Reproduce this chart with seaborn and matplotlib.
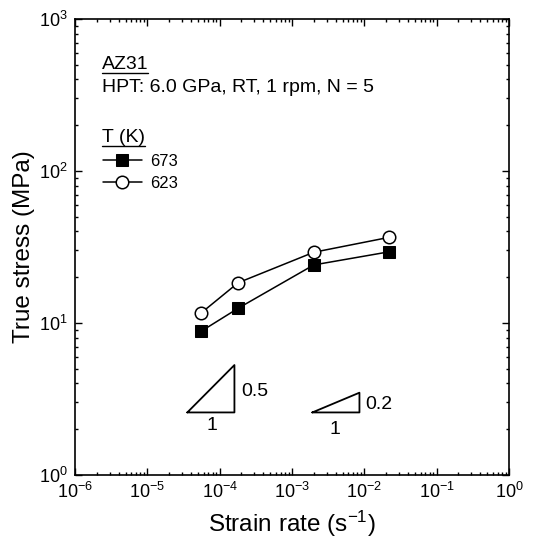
import numpy as np
import pandas as pd
import matplotlib
matplotlib.use("Agg")
import matplotlib.pyplot as plt
from matplotlib.lines import Line2D
import seaborn as sns

# data
strain_rate = [5.5e-5, 1.8e-4, 2.0e-3, 2.2e-2]
stress_673 = [8.8, 12.5, 24.1, 29.4]
stress_623 = [11.6, 18.4, 29.2, 36.6]
temps = ["673", "623"]

# slope triangles (x0, x1, y0, y1)
tri_05 = [3.57e-5, 1.6e-4, 2.58, 5.29]
tri_02 = [1.91e-3, 8.56e-3, 2.58, 3.48]

df = pd.DataFrame({
    "rate": strain_rate * 2,
    "stress": stress_673 + stress_623,
    "T": [temps[0]] * 4 + [temps[1]] * 4,
})

sns.set_style("ticks")
plt.rcParams["font.family"] = ["Liberation Sans", "DejaVu Sans"]
plt.rcParams["mathtext.fontset"] = "custom"
plt.rcParams["mathtext.rm"] = "Liberation Sans"
plt.rcParams["mathtext.it"] = "Liberation Sans:italic"
for k in ("text.color", "axes.labelcolor", "xtick.color", "ytick.color", "axes.edgecolor"):
    plt.rcParams[k] = "black"

fig = plt.figure(figsize=(5.45, 5.38), dpi=100)
ax = fig.add_axes([75 / 545, 63 / 538, 434 / 545, 456 / 538])

sns.lineplot(data=df[df["T"] == "673"], x="rate", y="stress", ax=ax,
             color="black", marker="s", markersize=8.5, markerfacecolor="black",
             markeredgecolor="black", linewidth=1.1, label="673")
sns.lineplot(data=df[df["T"] == "623"], x="rate", y="stress", ax=ax,
             color="black", marker="o", markersize=9, markerfacecolor="white",
             markeredgecolor="black", markeredgewidth=1.1, linewidth=1.1, label="623")

ax.set_xscale("log")
ax.set_yscale("log")
ax.set_xlim(1e-6, 1)
ax.set_ylim(1, 1000)

for tri in (tri_05, tri_02):
    x0, x1, y0, y1 = tri
    ax.plot([x0, x1, x1, x0], [y0, y0, y1, y0], color="black", linewidth=1.3)

ax.text(1.98e-4, 3.53, "0.5", fontsize=14, ha="left", va="center")
ax.text(7.8e-5, 2.13, "1", fontsize=14, ha="center", va="center")
ax.text(1.03e-2, 2.93, "0.2", fontsize=14, ha="left", va="center")
ax.text(3.94e-3, 1.98, "1", fontsize=14, ha="center", va="center")

ax.set_xlabel("Strain rate (s$^{-1}$)", fontsize=17.5, labelpad=5)
ax.set_ylabel("True stress (MPa)", fontsize=17.5, labelpad=3)

ax.tick_params(which="both", direction="in", top=True, right=True, width=1)
ax.tick_params(which="major", length=5, labelsize=13, pad=5)
ax.tick_params(which="minor", length=2.5)
for s in ax.spines.values():
    s.set_linewidth(1.2)

az = ax.text(0.0615, 0.890, "AZ31", transform=ax.transAxes, fontsize=14,
             va="baseline", ha="left")
ax.text(0.0615, 0.840, "HPT: 6.0 GPa, RT, 1 rpm, N = 5", transform=ax.transAxes,
        fontsize=14, va="baseline", ha="left")
tt = ax.text(0.0615, 0.730, "T (K)", transform=ax.transAxes, fontsize=14,
             va="baseline", ha="left")

leg = ax.legend(loc="upper left", bbox_to_anchor=(0.065, 0.705),
                frameon=False, fontsize=12, handlelength=2.3, handletextpad=0.5,
                labelspacing=0.42, borderpad=0, borderaxespad=0)

# underline AZ31 and the legend title
fig.canvas.draw()
r = fig.canvas.get_renderer()
for t in (az, tt):
    bb = t.get_window_extent(r)
    y = bb.y0 + 0.5
    fig.add_artist(Line2D([bb.x0 / fig.bbox.width, bb.x1 / fig.bbox.width],
                          [y / fig.bbox.height, y / fig.bbox.height],
                          transform=fig.transFigure, color="black", linewidth=1))

fig.savefig("out.png", dpi=100)
